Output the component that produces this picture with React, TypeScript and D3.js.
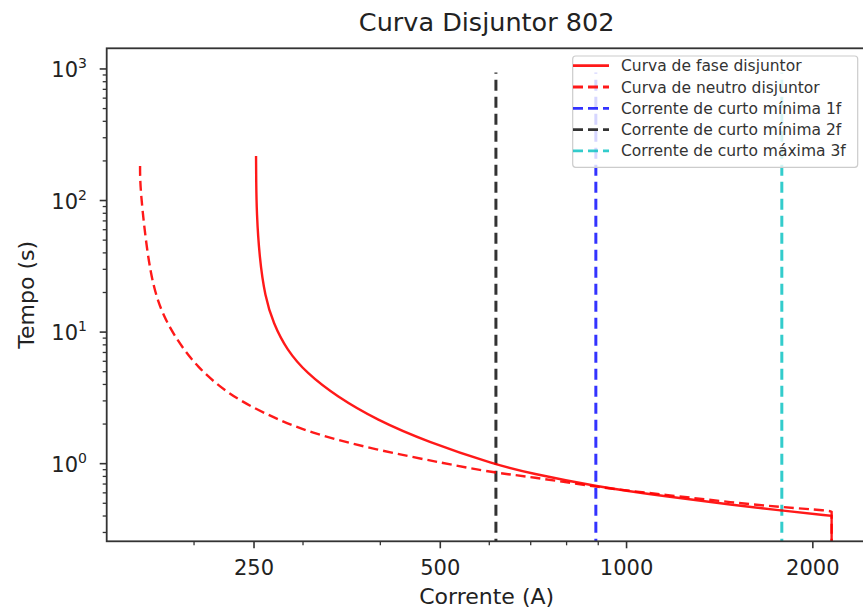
import React from "react";
import * as d3 from "d3";

const phaseI = [251.9, 252.0, 252.5, 255.0, 260.4, 268.6, 282.4, 304.1, 340.1, 394.7, 475.3, 615.1, 698.1, 892.4, 1160.9, 1487, 1781, 2144.8];
const phaseT = [218.3, 143.4, 80.1, 37.5, 18.6, 11.68, 7.32, 4.87, 3.24, 2.15, 1.472, 0.979, 0.847, 0.67, 0.562, 0.486, 0.44, 0.401];
const phaseDrop = [2144.8, 0.05];
const neutralI = [163.6, 163.6, 165.6, 169.8, 176.2, 187.5, 202.0, 225.9, 258.8, 307.9, 394.7, 505.6, 615.1, 698.1, 892.4, 1160.9, 1487, 1781, 2131, 2144.8];
const neutralT = [183.2, 135.3, 71.2, 28.0, 14.75, 8.72, 5.47, 3.43, 2.42, 1.705, 1.273, 1.009, 0.847, 0.798, 0.663, 0.579, 0.506, 0.467, 0.44, 0.43];
const neutralDrop = [2144.8, 0.05];
const faultNames = ["Corrente de curto mínima 1f", "Corrente de curto mínima 2f", "Corrente de curto máxima 3f"];
const faultCurrents = [892, 615, 1782];
const faultColors = ["#0000ff", "#000000", "#00bfbf"];
const faultSpan = [0.05, 940];
const xTickValues = [250, 500, 1000, 2000];
const yTickExps = [0, 1, 2, 3];
const legendLabels = ["Curva de fase disjuntor", "Curva de neutro disjuntor", ...faultNames];

const W = 863, H = 613;
const L = 106.7, R = 866.6, T = 48.3, B = 541.3;
const FONT = "'DejaVu Sans', sans-serif";

export default function App() {
  if (typeof document !== "undefined") document.body.style.margin = "0";
  const x = d3.scaleLog().domain([144.5, 2443]).range([L, R]);
  const y = d3.scaleLog().domain([0.257, 1435.5]).range([B, T]);
  const line = d3.line<[number, number]>().x(d => x(d[0])).y(d => y(d[1])).curve(d3.curveBasis);
  const phase = phaseI.map((v, i) => [v, phaseT[i]] as [number, number]);
  const neutral = neutralI.map((v, i) => [v, neutralT[i]] as [number, number]);
  const phasePath = (line(phase) || "") + `L${x(phaseDrop[0])},${y(phaseDrop[1])}`;
  const neutralPath = (line(neutral) || "") + `L${x(neutralDrop[0])},${y(neutralDrop[1])}`;

  const xMinor: number[] = [];
  [100, 1000].forEach(dec => { for (let k = 2; k <= 9; k++) { const v = dec * k; if (v >= 144.5 && v <= 2443 && !xTickValues.includes(v)) xMinor.push(v); } });
  const yMinor: number[] = [];
  [0.1, 1, 10, 100, 1000].forEach(dec => { for (let k = 2; k <= 9; k++) { const v = dec * k; if (v >= 0.257 && v <= 1435.5) yMinor.push(v); } });

  const legendStyles = [
    { color: "#ff0000", dash: null as string | null, op: 0.9 },
    { color: "#ff0000", dash: "10,5", op: 0.9 },
    ...faultColors.map(c => ({ color: c, dash: "10,5", op: 0.8 })),
  ];

  return (
    <svg width={W} height={H} style={{ display: "block", background: "#fff" }}>
      <defs>
        <clipPath id="plot"><rect x={L} y={T} width={R - L} height={B - T} /></clipPath>
      </defs>
      <text x={(L + R) / 2} y={31} textAnchor="middle" fontFamily={FONT} fontSize={25.5} fill="#222">Curva Disjuntor 802</text>
      <g clipPath="url(#plot)">
        {faultCurrents.map((c, i) => (
          <line key={i} x1={x(c)} x2={x(c)} y1={y(faultSpan[0])} y2={y(faultSpan[1])} stroke={faultColors[i]} strokeOpacity={0.8} strokeWidth={3} strokeDasharray="11,6" />
        ))}
        <path d={neutralPath} fill="none" stroke="#ff0000" strokeOpacity={0.9} strokeWidth={2.4} strokeDasharray="10,5" />
        <path d={phasePath} fill="none" stroke="#ff0000" strokeOpacity={0.9} strokeWidth={2.4} />
      </g>
      <rect x={L} y={T} width={R - L} height={B - T} fill="none" stroke="#333" strokeWidth={1.8} />
      {xTickValues.map(v => (
        <g key={v}>
          <line x1={x(v)} x2={x(v)} y1={B} y2={B + 7} stroke="#333" strokeWidth={1.6} />
          <text x={x(v)} y={575} textAnchor="middle" fontFamily={FONT} fontSize={21} fill="#222">{v}</text>
        </g>
      ))}
      {xMinor.map(v => <line key={v} x1={x(v)} x2={x(v)} y1={B} y2={B + 4} stroke="#333" strokeWidth={1.3} />)}
      {yTickExps.map(e => (
        <g key={e}>
          <line x1={L - 7} x2={L} y1={y(Math.pow(10, e))} y2={y(Math.pow(10, e))} stroke="#333" strokeWidth={1.6} />
          <text x={87} y={y(Math.pow(10, e)) + 8} textAnchor="end" fontFamily={FONT} fontSize={21} fill="#222">10<tspan fontSize={14} dy={-9}>{e}</tspan></text>
        </g>
      ))}
      {yMinor.map(v => <line key={v} x1={L - 4} x2={L} y1={y(v)} y2={y(v)} stroke="#333" strokeWidth={1.3} />)}
      <text x={(L + R) / 2} y={604} textAnchor="middle" fontFamily={FONT} fontSize={22} fill="#222">Corrente (A)</text>
      <text transform={`translate(34,${(T + B) / 2}) rotate(-90)`} textAnchor="middle" fontFamily={FONT} fontSize={22} fill="#222">Tempo (s)</text>
      <g>
        <rect x={572.7} y={56} width={285} height={111.3} rx={3} fill="#fff" fillOpacity={0.8} stroke="#ccc" strokeWidth={1.2} />
        {legendLabels.map((lab, i) => {
          const yy = 65.7 + i * 21.3;
          const s = legendStyles[i];
          return (
            <g key={i}>
              <line x1={573} x2={609} y1={yy} y2={yy} stroke={s.color} strokeOpacity={s.op} strokeWidth={2.8} strokeDasharray={s.dash || undefined} />
              <text x={621} y={yy + 5.5} fontFamily={FONT} fontSize={15.5} fill="#333">{lab}</text>
            </g>
          );
        })}
      </g>
    </svg>
  );
}
